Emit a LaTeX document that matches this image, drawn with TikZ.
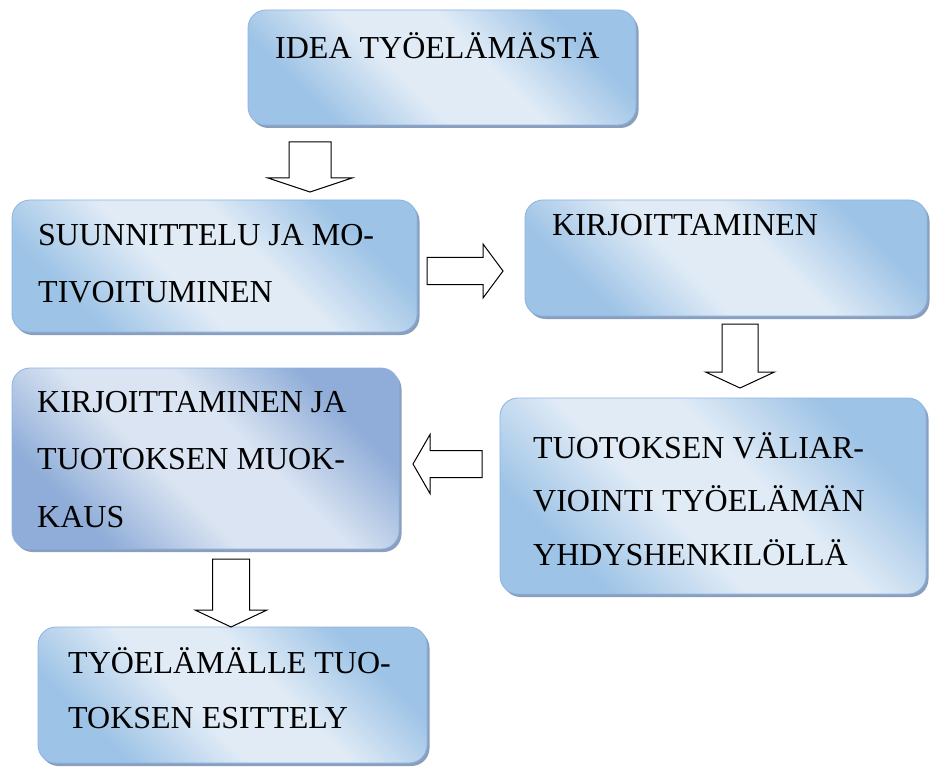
\documentclass[tikz,border=0pt]{standalone}
\usepackage{fontspec}
\setmainfont{Liberation Serif}
\usetikzlibrary{calc,shadows}
\definecolor{boxdark}{HTML}{9DC3E6}
\definecolor{boxdarker}{HTML}{8FADD8}
\definecolor{boxlight}{HTML}{E0EBF6}
\definecolor{boxlight2}{HTML}{DAE4F2}
\definecolor{boxline}{HTML}{8DB3E2}
\definecolor{boxshadow}{HTML}{8A9FBD}
\pgfdeclareverticalshading{stageshade}{100bp}{color(0bp)=(boxdark); color(27bp)=(boxdark); color(43bp)=(boxlight); color(57bp)=(boxlight); color(73bp)=(boxdark); color(100bp)=(boxdark)}
\pgfdeclareverticalshading{stageshadeb}{100bp}{color(0bp)=(boxdarker); color(27bp)=(boxdarker); color(43bp)=(boxlight2); color(57bp)=(boxlight2); color(73bp)=(boxdarker); color(100bp)=(boxdarker)}
\tikzset{
  stagebox/.style={draw=boxline, line width=0.8pt, rounded corners=18pt,
    shade, shading=stageshade, shading angle=-45,
    drop shadow={shadow xshift=2.5pt, shadow yshift=-3pt, fill=boxshadow, opacity=1},
    inner sep=0pt},
  stagetext/.style={anchor=north west, inner sep=0pt, align=left, text=black},
  blockarrow/.style={draw=black, line width=1pt, fill=white, line join=miter}
}
\newcommand\blockarr[5]{%
  \path ($(#2)!#5!(#1)$) coordinate (ba-h);
  \draw[blockarrow] ($(#1)!#3!90:(#2)$) -- ($(ba-h)!#3!90:(#2)$) -- ($(ba-h)!#4!90:(#2)$)
    -- (#2) -- ($(ba-h)!#4!-90:(#2)$) -- ($(ba-h)!#3!-90:(#2)$) -- ($(#1)!#3!-90:(#2)$) -- cycle;
}
\begin{document}
\begin{tikzpicture}[x=1pt, y=-1pt]
\useasboundingbox (0,0) rectangle (931,767);
% boxes
\node[stagebox, minimum width=388pt, minimum height=115pt] (b1) at (442,67.5) {};
\node[stagebox, minimum width=405pt, minimum height=132pt] (b2) at (214.5,266) {};
\node[stagebox, minimum width=402pt, minimum height=116pt] (b3) at (726,258) {};
\node[stagebox, minimum width=426pt, minimum height=196pt] (b4) at (713,496) {};
\node[stagebox, shading=stageshadeb, minimum width=387pt, minimum height=181pt] (b5) at (205.5,458.5) {};
\node[stagebox, minimum width=389pt, minimum height=136pt] (b6) at (232.5,695) {};
% texts
\node[stagetext, font=\fontsize{32}{56}\selectfont] (t1) at (275,18.8) {\strut IDEA TYÖELÄMÄSTÄ};
\node[stagetext, font=\fontsize{32}{57}\selectfont] (t2) at (38,205.1) {\strut SUUNNITTELU JA MO-\\\strut TIVOITUMINEN};
\node[stagetext, font=\fontsize{32}{56}\selectfont] (t3) at (552,195.8) {\strut KIRJOITTAMINEN};
\node[stagetext, font=\fontsize{32}{53.5}\selectfont] (t4) at (533,420.5) {\strut TUOTOKSEN VÄLIAR-\\\strut VIOINTI TYÖELÄMÄN\\\strut YHDYSHENKILÖLLÄ};
\node[stagetext, font=\fontsize{32}{57.5}\selectfont] (t5) at (37,371.7) {\strut KIRJOITTAMINEN JA\\\strut TUOTOKSEN MUOK-\\\strut KAUS};
\node[stagetext, font=\fontsize{32}{55}\selectfont] (t6) at (68,634.5) {\strut TYÖELÄMÄLLE TUO-\\\strut TOKSEN ESITTELY};
% arrow end points
\coordinate (a1s) at (310,142);  \coordinate (a1e) at (310,192);
\coordinate (a2s) at (427,271);  \coordinate (a2e) at (503,271);
\coordinate (a3s) at (740,324);  \coordinate (a3e) at (740,388);
\coordinate (a4s) at (482,464);  \coordinate (a4e) at (413,464);
\coordinate (a5s) at (231,559);  \coordinate (a5e) at (231,627);
% block arrows
\blockarr{a1s}{a1e}{21pt}{42pt}{14pt}
\blockarr{a2s}{a2e}{13.5pt}{27pt}{20pt}
\blockarr{a3s}{a3e}{18pt}{34.5pt}{16pt}
\blockarr{a4s}{a4e}{13.5pt}{29.5pt}{17pt}
\blockarr{a5s}{a5e}{18.5pt}{36pt}{17pt}
\end{tikzpicture}
\end{document}
